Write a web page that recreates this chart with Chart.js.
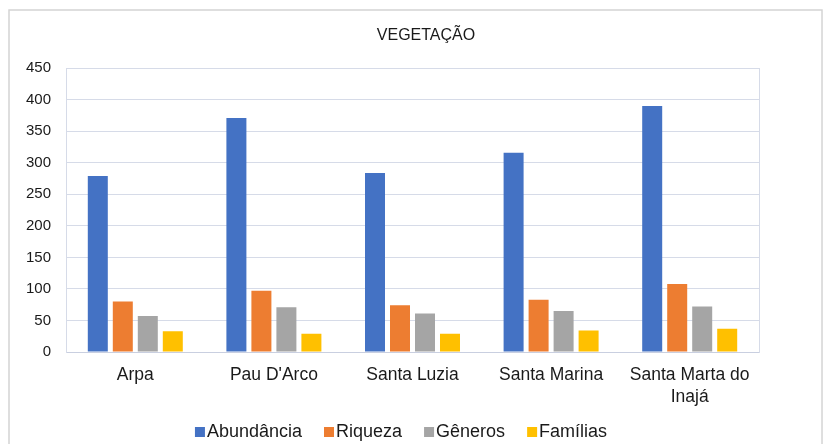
<!DOCTYPE html>
<html>
<head>
<meta charset="utf-8">
<script src="https://cdn.jsdelivr.net/npm/chart.js@4/dist/chart.umd.min.js"></script>
<style>
  html, body { margin: 0; padding: 0; background: #ffffff; }
  #wrap { width: 825px; height: 444px; position: relative; }
</style>
</head>
<body>
<div id="wrap"><canvas id="c" width="825" height="444"></canvas></div>
<script>
// ---- data ----
const categories = ['Arpa', "Pau D'Arco", 'Santa Luzia', 'Santa Marina', ['Santa Marta do', 'Inajá']];
const seriesNames = ['Abundância', 'Riqueza', 'Gêneros', 'Famílias'];
const abundancia = [279, 371, 284, 316, 390];
const riqueza = [80, 97, 74, 83, 108];
const generos = [57, 71, 61, 65, 72];
const familias = [33, 29, 29, 34, 37];
const yTicks = [0, 50, 100, 150, 200, 250, 300, 350, 400, 450];
const chartTitle = 'VEGETAÇÃO';

// ---- styles ----
const colors = ['#4472C4', '#ED7D31', '#A5A5A5', '#FFC000'];
const FONT = '"Liberation Sans", Arial, sans-serif';
const TEXT = '#1a1a1a';
const GRID = '#d6dbe8';

function squareIcon(color) {
  const cv = document.createElement('canvas');
  cv.width = 21; cv.height = 10;
  const g = cv.getContext('2d');
  g.fillStyle = color;
  g.fillRect(8, 0, 10, 10);
  return cv;
}
const icons = colors.map(squareIcon);

const frame = {
  id: 'frame',
  beforeDraw(chart) {
    const ctx = chart.ctx;
    ctx.save();
    ctx.fillStyle = '#ffffff';
    ctx.fillRect(0, 0, chart.width, chart.height);
    ctx.strokeStyle = '#d4d4d4';
    ctx.lineWidth = 1.5;
    ctx.strokeRect(9, 10, chart.width - 12, chart.height);
    ctx.restore();
  },
  afterLayout(chart) {
    const lg = chart.legend;
    if (lg) {
      lg.left -= 24; lg.right -= 24;
      lg.top += 7; lg.bottom += 7;
    }
    // widen label clipping areas so multi-line / wide labels are not cut
    const x = chart.scales.x;
    if (x) { x.bottom = x.top + 72; }
    const y = chart.scales.y;
    if (y) { y.left = 0; }
  }
};

const seriesData = [abundancia, riqueza, generos, familias];

new Chart(document.getElementById('c'), {
  type: 'bar',
  data: {
    labels: categories,
    datasets: seriesNames.map((n, i) => ({
      label: n,
      data: seriesData[i],
      backgroundColor: colors[i],
      borderWidth: 0,
      categoryPercentage: 0.7215,
      barPercentage: 0.8
    }))
  },
  options: {
    responsive: false,
    animation: false,
    devicePixelRatio: 1,
    layout: { padding: { left: 27, right: 0, top: 0, bottom: 0 } },
    plugins: {
      title: {
        display: true,
        text: chartTitle,
        color: TEXT,
        font: { family: FONT, size: 16, weight: 'normal', lineHeight: 1.2 },
        padding: { top: 26, bottom: 23 }
      },
      legend: {
        display: true,
        position: 'bottom',
        labels: {
          color: TEXT,
          font: { family: FONT, size: 18 },
          usePointStyle: true,
          pointStyleWidth: 1,
          boxWidth: 1,
          boxHeight: 10,
          padding: 24,
          generateLabels(chart) {
            const items = Chart.defaults.plugins.legend.labels.generateLabels(chart);
            items.forEach((it) => { it.pointStyle = icons[it.datasetIndex]; });
            return items;
          }
        }
      },
      tooltip: { enabled: false }
    },
    scales: {
      x: {
        grid: { display: false, drawTicks: false },
        border: { display: true, color: '#c9cfe0', width: 1 },
        ticks: {
          color: TEXT,
          font: { family: FONT, size: 17.5, lineHeight: 1.25 },
          padding: 12,
          maxRotation: 0,
          autoSkip: false
        },
        afterFit(s) { s.height = 40; }
      },
      y: {
        min: 0,
        max: 450,
        afterBuildTicks(s) { s.ticks = yTicks.map(v => ({ value: v })); },
        grid: { color: GRID, lineWidth: 1, drawTicks: false },
        border: { display: true, color: GRID, width: 1 },
        ticks: {
          color: TEXT,
          font: { family: FONT, size: 15 },
          padding: 15
        },
        afterFit(s) { s.width = 39; }
      },
      y2: {
        type: 'linear',
        position: 'right',
        display: true,
        grid: { display: false, drawTicks: false },
        border: { display: true, color: GRID, width: 1 },
        ticks: { display: false },
        afterFit(s) { s.width = 66; }
      }
    }
  },
  plugins: [frame]
});
</script>
</body>
</html>
